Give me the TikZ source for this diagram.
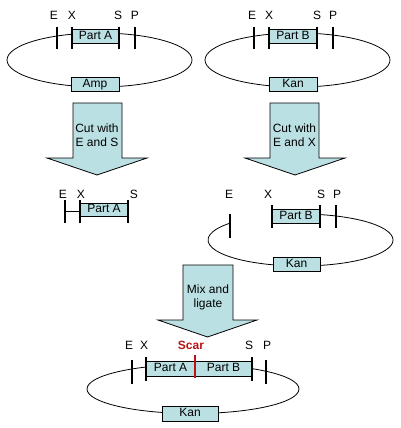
\documentclass[tikz,border=0pt]{standalone}
\usepackage{fontspec}
\setmainfont{Liberation Sans}
\definecolor{lb}{RGB}{187,224,227}
\definecolor{scarred}{RGB}{185,20,20}
\begin{document}
\begin{tikzpicture}[x=1pt,y=-1pt,
  every node/.style={font=\fontsize{12}{13}\selectfont, inner sep=0pt},
  box/.style={draw, fill=lb, line width=0.8pt, minimum height=14pt, text height=8.2pt, text depth=1.5pt},
  bar/.style={line width=2.8pt},
  ring/.style={line width=0.8pt},
  bigarrow/.style={draw, fill=lb, line width=0.8pt, line join=miter},
  atext/.style={align=center, font=\fontsize{12}{14}\selectfont}]
\useasboundingbox (0,0) rectangle (401,428);

% ---- top left plasmid ----
\draw[ring] (99.5,60) ellipse[x radius=92.5pt, y radius=27pt];
\node[box, minimum width=47pt] (partA1) at (95.5,36) {Part A};
\node[box, minimum width=48pt] (amp) at (95,84) {Amp};
\draw[bar] (57,27) -- (57,49);
\draw[bar] (72,27) -- (72,49);
\draw[bar] (119,27) -- (119,49);
\draw[bar] (135,27) -- (135,49);
\node (e1) at (54,15) {E};
\node (x1) at (72,15) {X};
\node (s1) at (118,15) {S};
\node (p1) at (135,15) {P};

% ---- top right plasmid ----
\draw[ring] (297.5,60) ellipse[x radius=92.5pt, y radius=27pt];
\node[box, minimum width=48pt] (partB1) at (293,36) {Part B};
\node[box, minimum width=48pt] (kan1) at (293,84) {Kan};
\draw[bar] (254,27) -- (254,49);
\draw[bar] (269,27) -- (269,49);
\draw[bar] (317,27) -- (317,49);
\draw[bar] (333,27) -- (333,49);
\node (e2) at (252,15) {E};
\node (x2) at (269,15) {X};
\node (s2) at (317,15) {S};
\node (p2) at (333,15) {P};

% ---- arrows ----
\draw[bigarrow] (73,103) -- (122,103) -- (122,158) -- (147,158) -- (97,175) -- (47,158) -- (73,158) -- cycle;
\node[atext] (t1) at (97,135) {Cut with\\E and S};
\draw[bigarrow] (270,103) -- (319,103) -- (319,158) -- (345,158) -- (295,175) -- (245,158) -- (270,158) -- cycle;
\node[atext] (t2) at (294.5,135) {Cut with\\E and X};

% ---- cut fragment A ----
\draw[line width=0.8pt] (65,211.5) -- (80,211.5);
\node[box, minimum width=48pt, minimum height=13pt] (partA2) at (104,209.5) {Part A};
\draw[bar] (65,200) -- (65,223);
\draw[bar] (80,200) -- (80,223);
\draw[bar] (128,200) -- (128,223);
\node (e3) at (63,194) {E};
\node (x3) at (81,194) {X};
\node (s3) at (134,194) {S};

% ---- cut plasmid B ----
\draw[ring] ([shift={(107.9:92.5pt and 26pt)}]300.5,240) arc[start angle=107.9, end angle=-220.4, x radius=92.5pt, y radius=26pt];
\node[box, minimum width=48pt] (partB2) at (296,216) {Part B};
\node[box, minimum width=47pt] (kan2) at (296.5,264) {Kan};
\draw[bar] (230,214) -- (230,238);
\draw[bar] (272,205) -- (272,228);
\draw[bar] (320,205) -- (320,228);
\draw[bar] (336,205) -- (336,228);
\node (e4) at (229,194) {E};
\node (x4) at (268,194) {X};
\node (s4) at (321,194) {S};
\node (p4) at (337,194) {P};

% ---- mix arrow ----
\draw[bigarrow] (183,265) -- (233,265) -- (233,320) -- (257,320) -- (207.5,337) -- (158,320) -- (183,320) -- cycle;
\node[atext] (t3) at (208,297) {Mix and\\ligate};

% ---- ligated plasmid ----
\draw[ring] (193,389) ellipse[x radius=106pt, y radius=24.5pt];
\node[box, minimum width=49pt, minimum height=15pt] (partA3) at (170.5,368.5) {Part A};
\node[box, minimum width=57pt, minimum height=15pt] (partB3) at (223.5,368.5) {Part B};
\node[box, minimum width=56pt, minimum height=15pt] (kan3) at (190,413.5) {Kan};
\draw[bar] (132,360) -- (132,384);
\draw[bar] (146,357) -- (146,381);
\draw[bar, scarred, line width=2.5pt] (195,355) -- (195,378);
\draw[bar] (252,357) -- (252,381);
\draw[bar] (266,360) -- (266,384);
\node (e5) at (129,345) {E};
\node (x5) at (144,345) {X};
\node[text=scarred, font=\fontsize{12}{13}\selectfont\bfseries] (scar) at (191,345) {Scar};
\node (s5) at (249,345) {S};
\node (p5) at (267,345) {P};
\end{tikzpicture}
\end{document}
